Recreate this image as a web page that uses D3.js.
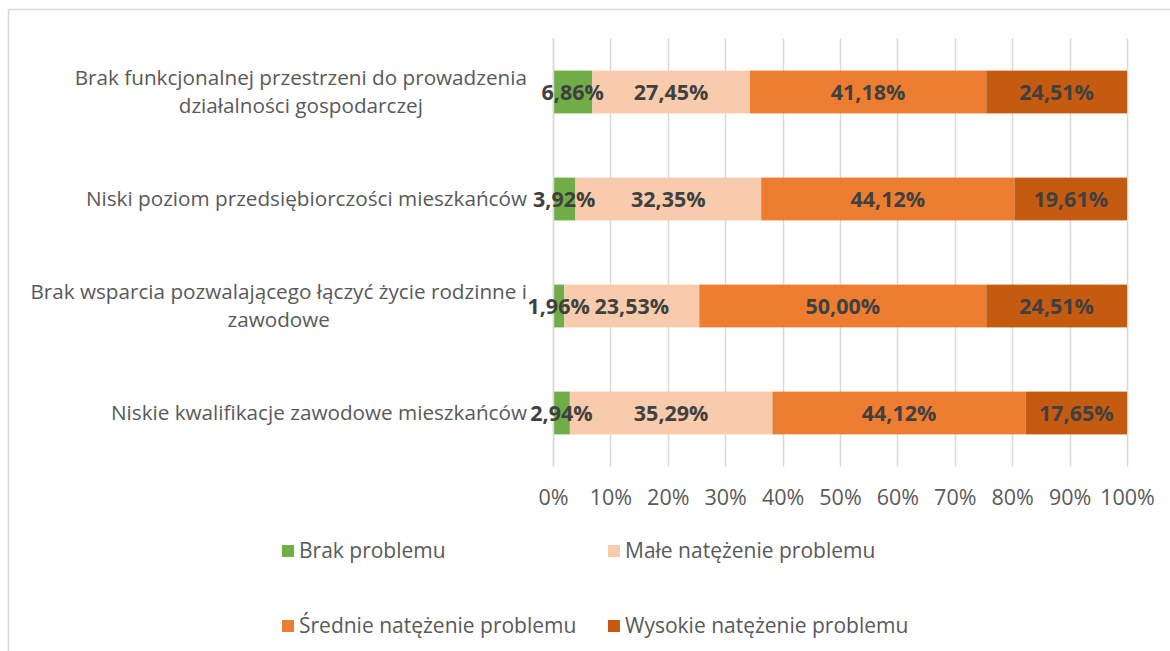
<!DOCTYPE html>
<html lang="pl">
<head>
<meta charset="utf-8">
<script src="https://cdn.jsdelivr.net/npm/d3@7"></script>
<style>
  html, body { margin: 0; padding: 0; background: #fff; }
  svg { display: block; }
  text { font-family: "Open Sans", "DejaVu Sans", sans-serif; }
</style>
</head>
<body>
<svg id="chart" width="1170" height="651"></svg>
<script>
// Categories (top to bottom) with manual line breaks
const categories = [
  "Brak funkcjonalnej przestrzeni do prowadzenia|działalności gospodarczej",
  "Niski poziom przedsiębiorczości mieszkańców",
  "Brak wsparcia pozwalającego łączyć życie rodzinne i|zawodowe",
  "Niskie kwalifikacje zawodowe mieszkańców"
];

// Series names and shares (percent) per category
const seriesNames = [
  "Brak problemu",
  "Małe natężenie problemu",
  "Średnie natężenie problemu",
  "Wysokie natężenie problemu"
];
const brakProblemu   = [6.86, 3.92, 1.96, 2.94];
const maleNatezenie  = [27.45, 32.35, 23.53, 35.29];
const srednieNatezenie = [41.18, 44.12, 50.00, 44.12];
const wysokieNatezenie = [24.51, 19.61, 24.51, 17.65];
const seriesValues = [brakProblemu, maleNatezenie, srednieNatezenie, wysokieNatezenie];

const seriesColors = ["#70AD47", "#F8CBAD", "#ED7D31", "#C55A11"];
const tickValues = [0, 10, 20, 30, 40, 50, 60, 70, 80, 90, 100];

const svg = d3.select("#chart");

// Chart frame
svg.append("rect")
  .attr("x", 8.5).attr("y", 9.5)
  .attr("width", 1170).attr("height", 700)
  .attr("fill", "#fff").attr("stroke", "#d9d9d9").attr("stroke-width", 1.5);

const plot = { left: 553, right: 1127, top: 38.5, bottom: 466.5 };

const x = d3.scaleLinear().domain([0, 100]).range([plot.left, plot.right]);
const y = d3.scaleBand().domain(categories).range([plot.top, plot.bottom])
  .paddingInner(0.6).paddingOuter(0.3);

// Vertical gridlines
svg.append("g").selectAll("line").data(tickValues).join("line")
  .attr("x1", d => Math.round(x(d)) + 0.5).attr("x2", d => Math.round(x(d)) + 0.5)
  .attr("y1", plot.top).attr("y2", plot.bottom)
  .attr("stroke", "#d9d9d9").attr("stroke-width", 1.5);

// X axis labels
const xAxis = d3.axisBottom(x).tickValues(tickValues).tickSize(0).tickPadding(0)
  .tickFormat(d => d + "%");
const gx = svg.append("g").attr("transform", `translate(0, ${plot.bottom + 31})`).call(xAxis);
gx.select(".domain").remove();
gx.selectAll("text")
  .attr("dy", "0.35em").attr("y", 0)
  .attr("fill", "#595959").style("font-size", "21.5px")
  .style("font-family", "\"Open Sans\", sans-serif");

// Stacked data
const rows = categories.map((c, i) => {
  let acc = 0;
  return seriesValues.map((vals, s) => {
    const seg = { cat: c, s, v: vals[i], x0: acc, x1: acc + vals[i] };
    acc += vals[i];
    return seg;
  });
}).flat();

svg.append("g").selectAll("rect").data(rows).join("rect")
  .attr("x", d => x(d.x0))
  .attr("width", d => x(d.x1) - x(d.x0))
  .attr("y", d => y(d.cat))
  .attr("height", y.bandwidth())
  .attr("fill", d => seriesColors[d.s]);

// Category axis line
svg.append("line")
  .attr("x1", plot.left + 0.5).attr("x2", plot.left + 0.5)
  .attr("y1", plot.top).attr("y2", plot.bottom)
  .attr("stroke", "#d9d9d9").attr("stroke-width", 1.5);

// Data labels
const fmt = v => v.toFixed(2).replace(".", ",") + "%";
svg.append("g").selectAll("text").data(rows).join("text")
  .attr("x", d => x((d.x0 + d.x1) / 2))
  .attr("y", d => y(d.cat) + y.bandwidth() / 2)
  .attr("dy", "0.36em")
  .attr("text-anchor", "middle")
  .attr("fill", "#404040")
  .style("font-size", "21.5px").style("font-weight", "bold")
  .text(d => fmt(d.v));

// Category labels: widest line ends at labelRight, other lines centred on it
const labelRight = 527;
const lineH = 28;
const gl = svg.append("g");
categories.forEach(c => {
  const lines = c.split("|");
  const cy = y(c) + y.bandwidth() / 2;
  const t = gl.append("text")
    .attr("fill", "#595959").style("font-size", "20.7px");
  const spans = lines.map((ln, i) => t.append("tspan")
    .attr("y", cy + (i - (lines.length - 1) / 2) * lineH)
    .attr("dy", "0.35em")
    .text(ln));
  const widths = spans.map(s => s.node().getComputedTextLength());
  const maxW = d3.max(widths);
  const cx = labelRight - maxW / 2;
  spans.forEach(s => s.attr("x", cx).attr("text-anchor", "middle"));
});

// Legend
const legendPos = [[282, 551], [608, 551], [282, 626], [608, 626]];
const lg = svg.append("g");
seriesNames.forEach((name, i) => {
  const [lx, ly] = legendPos[i];
  lg.append("rect").attr("x", lx).attr("y", ly - 6).attr("width", 12).attr("height", 12)
    .attr("fill", seriesColors[i]);
  lg.append("text").attr("x", lx + 17).attr("y", ly).attr("dy", "0.35em")
    .attr("fill", "#595959").style("font-size", "21px").text(name);
});
</script>
</body>
</html>
